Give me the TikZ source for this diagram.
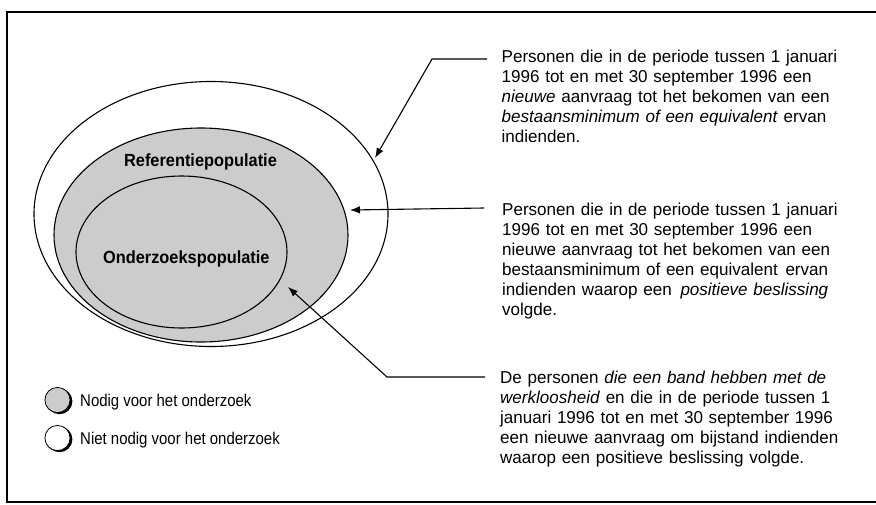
\documentclass[tikz,border=0pt]{standalone}
\usepackage{fontspec}
\setmainfont{Liberation Sans}
\newfontfamily\descfont[FakeStretch=0.99]{Liberation Sans}
\newfontfamily\labfont[FakeStretch=0.93]{Liberation Sans}
\newfontfamily\legfont[FakeStretch=0.88]{Liberation Sans}
\usetikzlibrary{arrows.meta,shapes.geometric}
\definecolor{stip}{gray}{0.80}
\begin{document}
\begin{tikzpicture}[x=1pt,y=-1pt,
  ring/.style={ellipse, draw, line width=1.1pt, inner sep=0pt, outer sep=0pt},
  desc/.style={anchor=base west, inner sep=0pt, text width=370pt, align=left,
               font=\descfont\fontsize{17.2}{20}\selectfont},
  ptr/.style={line width=1.1pt, -{Latex[length=10pt,width=7.5pt]}},
  lab/.style={font=\labfont\bfseries\fontsize{17.6}{20}\selectfont, anchor=base, inner sep=0pt},
  legtxt/.style={font=\legfont\fontsize{17}{20}\selectfont, anchor=base west, inner sep=0pt},
  legdot/.style={draw=black, line width=0.8pt},
]
\useasboundingbox (0,0) rectangle (876,504);
% frame
\draw[line width=1.1pt] (876,12) -- (7,12) -- (7,502) -- (876,502);

% nested populations
\node[ring, fill=white, minimum width=354pt, minimum height=265pt] (outer) at (211,214) {};
\node[ring, fill=stip, minimum width=294pt, minimum height=214pt] (middle) at (201,235) {};
\node[ring, fill=stip, minimum width=211pt, minimum height=152pt] (inner) at (181.5,252) {};
\node[lab] (reflab) at (200.5,166) {Referentiepopulatie};
\node[lab] (ozlab) at (186.3,263) {Onderzoekspopulatie};

% descriptions
\node[desc] (t1) at (501.5,62.7) {Personen die in de periode tussen 1 januari\\
1996 tot en met 30 september 1996 een\\
\textit{nieuwe} aanvraag tot het bekomen van een\\
\textit{bestaansminimum of een equivalent} ervan\\
indienden.};
\node[desc] (t2) at (502,215) {Personen die in de periode tussen 1 januari\\
1996 tot en met 30 september 1996 een\\
nieuwe aanvraag tot het bekomen van een\\
bestaansminimum of een equivalent\hspace{2pt} ervan\\
indienden waarop een\hspace{3pt} \textit{positieve beslissing}\\
volgde.};
\node[desc] (t3) at (500,383) {De personen \textit{die een band hebben met de}\\
\textit{werkloosheid} en die in de periode tussen 1\\
januari 1996 tot en met 30 september 1996\\
een nieuwe aanvraag om bijstand indienden\\
waarop een positieve beslissing volgde.};

% pointers
\coordinate (a1s) at (487,59);
\coordinate (a1k) at (432,59);
\coordinate (a1t) at (375,158);
\coordinate (a2s) at (484,208);
\coordinate (a2t) at (350,210);
\coordinate (a3s) at (485,377);
\coordinate (a3k) at (387,377);
\coordinate (a3t) at (288,287);
\draw[ptr] (a1s) -- (a1k) -- (a1t);
\draw[ptr] (a2s) -- (a2t);
\draw[ptr] (a3s) -- (a3k) -- (a3t);

% legend
\fill[black] (59.5,401.3) circle (12.9pt);
\filldraw[legdot, fill=stip] (57.5,400) circle (12.6pt);
\node[legtxt] (leg1) at (80,406) {Nodig voor het onderzoek};
\fill[black] (59.5,439.3) circle (12.9pt);
\filldraw[legdot, fill=white] (57.5,438) circle (12.6pt);
\node[legtxt] (leg2) at (80,444) {Niet nodig voor het onderzoek};
\end{tikzpicture}
\end{document}
